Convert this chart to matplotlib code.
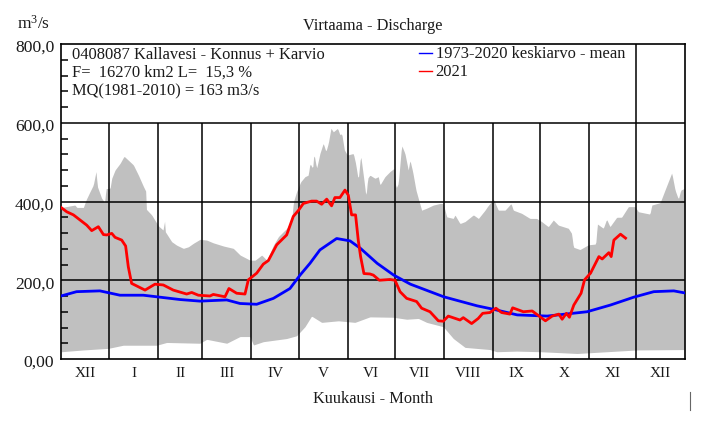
import numpy as np
import matplotlib
matplotlib.use('Agg')
import matplotlib.pyplot as plt
from matplotlib.lines import Line2D
from matplotlib.transforms import ScaledTranslation

plt.rcParams['font.family'] = ['Liberation Serif', 'DejaVu Serif']
plt.rcParams['mathtext.default'] = 'regular'

month_labels = ['XII', 'I', 'II', 'III', 'IV', 'V', 'VI', 'VII', 'VIII', 'IX', 'X', 'XI', 'XII']
month_days = [31, 31, 28, 31, 30, 31, 30, 31, 31, 30, 31, 30, 31]

# paivat laskettu 1.12. alkaen
upper_days = [0.8, 9.2, 10.3, 14.5, 16.2, 18.7, 20.8, 22.5, 23.4, 26.1, 28.2, 28.7, 31.4, 32.5, 34.6, 37.8, 40.3, 43, 46.2, 49.4,
              52.6, 54.2, 54.5, 57.8, 62.1, 65.2, 65.9, 66.5, 70.5, 73.7, 77.9, 81.1, 84.3, 88.5, 92.7, 96.9, 103.3, 109.6, 113.9, 120.2,
              123.4, 127.6, 130.8, 135, 138.2, 143.5, 146.6, 147.7, 149.7, 152.3, 155, 157.1, 158.2, 159.9, 160.7, 162.4, 164.5, 166.6, 168.3, 169.8,
              171.5, 173, 175.7, 177.2, 178.3, 180, 181.9, 185.7, 187.1, 188.8, 190.3, 192.4, 193.7, 194.8, 196.2, 199.4, 201.5, 202.6, 205.7, 208.9,
              211.5, 212.7, 214.2, 216.3, 218.4, 220.5, 221.6, 223.3, 225.4, 227.5, 229, 232.2, 236.4, 240.6, 242.7, 244.9, 249.1, 250.1, 253.3, 256.5,
              261.8, 265, 269.2, 270.7, 274.5, 277.6, 281.9, 285.7, 287.1, 292.4, 297.7, 301.9, 305.1, 309.3, 312.5, 315.7, 322, 324.1, 325.2, 329.4,
              334.7, 339.4, 340.4, 344.2, 346.3, 348.4, 352.7, 355.8, 360.1, 364.3, 366.4, 373.8, 374.9, 380.2, 383.3, 387.6, 389.7, 391.8, 393.3, 396]
upper_vals = [385, 391, 385, 385, 404, 425, 442, 476, 438, 408, 397, 433, 433, 459, 480, 497, 515, 505, 493, 467,
              438, 425, 380, 366, 338, 327, 355, 323, 298, 289, 281, 285, 294, 304, 302, 295, 287, 281, 264, 251,
              251, 264, 251, 289, 311, 332, 353, 399, 425, 450, 463, 467, 497, 484, 522, 484, 522, 548, 527, 548,
              586, 577, 586, 569, 573, 531, 518, 522, 497, 455, 518, 455, 412, 459, 467, 459, 463, 442, 463, 476,
              484, 433, 446, 543, 522, 480, 505, 476, 429, 399, 378, 383, 391, 395, 395, 361, 357, 366, 344, 349,
              366, 357, 378, 387, 406, 378, 378, 395, 378, 370, 357, 357, 349, 336, 353, 340, 332, 319, 284, 278,
              290, 292, 343, 332, 355, 336, 360, 360, 387, 387, 374, 368, 391, 397, 429, 473, 429, 406, 429, 434]

lower_days = [0.7, 14.5, 30.3, 39.8, 61, 67.3, 88.4, 92.7, 105.4, 113.8, 120.2, 122.3, 128.6, 143.4, 149.7, 155, 159.2, 165.6, 176.2, 186.7,
              196.2, 211, 219.5, 226.9, 232.2, 242.7, 249.1, 256.5, 272.3, 276.6, 289.3, 304.4, 327.6, 365.7, 396]
lower_vals = [18.5, 23, 27, 35, 35, 42, 40, 50, 40, 57, 57, 35.5, 44, 52, 59, 82, 109, 93, 97, 93,
              107, 106, 101, 103, 93, 82, 52, 29.5, 24, 18.5, 20, 18.5, 14, 23, 24]

mean_days = [0.3, 10.2, 25, 37.7, 52.5, 63.1, 75.8, 88.4, 105.4, 113.8, 124.4, 135, 145.5, 151.9, 158.2, 164.5, 175.1, 183.6, 190.2, 200.8,
             211.3, 221.9, 243, 264.2, 274.8, 289.6, 308.6, 333.9, 348.7, 363.5, 376.2, 388.9, 395.6]
mean_vals = [160, 171, 173, 162, 162, 157, 151, 147, 150, 141, 139, 154, 179, 213, 243, 277, 306, 300, 281, 243,
             213, 190, 158, 135, 126, 112, 109, 120, 137, 157, 171, 173, 168]

y2021_days = [0.3, 3.9, 8.2, 12.4, 16.6, 19.8, 24, 27.2, 29.3, 32.5, 34.6, 38.8, 41.3, 43, 45.1, 53.6, 59.9, 65.2, 71.5, 80,
              83.2, 87.4, 94.8, 96.9, 104.3, 106.8, 111.7, 117, 119.1, 124.4, 128.6, 131.8, 137.1, 143.4, 147.6, 150.8, 154, 159.2, 162.4, 165.6,
              168.8, 171.9, 174, 177.2, 180.4, 182.5, 184.6, 187.1, 188.8, 190.3, 192.4, 196.2, 198.4, 202.2, 208.9, 212.1, 215.3, 219.5, 225.8, 229,
              234.3, 239.6, 242.7, 245.9, 253.3, 255.4, 260.7, 264.9, 267.7, 272.3, 276.1, 279.7, 285, 286.7, 293.5, 299.1, 307.5, 311.8, 316, 318.1,
              320.8, 322.7, 325.5, 330.1, 332.3, 336.1, 341.4, 343.5, 347.7, 349.2, 350.9, 355.1, 358.3]
y2021_vals = [385, 374, 366, 353, 340, 326, 336, 316, 315, 319, 309, 302, 287, 234, 192, 175, 190, 188, 175, 165,
              169, 162, 160, 164, 158, 179, 167, 165, 201, 218, 241, 250, 290, 315, 362, 377, 395, 401, 401, 393,
              406, 389, 410, 410, 429, 416, 366, 366, 302, 260, 217, 216, 213, 200, 202, 200, 171, 154, 146, 129,
              120, 97, 96, 109, 99, 105, 90, 103, 116, 118, 129, 118, 114, 130, 120, 122, 97, 109, 114, 101,
              116, 106, 137, 167, 201, 218, 260, 254, 270, 260, 302, 317, 307]

info_lines = ['0408087 Kallavesi - Konnus + Karvio', 'F=  16270 km2 L=  15,3 %', 'MQ(1981-2010) = 163 m3/s']

month_edges = np.cumsum(month_days)
month_mid = month_edges - np.array(month_days) / 2
total_days = month_edges[-1]
W, H = 720, 422
TXT = '#1a1a1a'

fig = plt.figure(figsize=(W / 100, H / 100), dpi=100)
ax = fig.add_axes([60.5 / W, 63 / H, 624.5 / W, 315 / H])

# harmaa alue min-max, yhteiset x-pisteet
grid_x = np.arange(0.5, total_days, 0.5)
ax.fill_between(grid_x, np.interp(grid_x, lower_days, lower_vals), np.interp(grid_x, upper_days, upper_vals),
                color='#c0c0c0', lw=0, zorder=1)

ax.hlines([200, 400, 600], 0, total_days, color='black', lw=1.1, zorder=2)
ax.vlines(month_edges[:-2], 0, 600, color='black', lw=1.1, zorder=2)
ax.vlines(month_edges[-2], 0, 800, color='black', lw=1.1, zorder=2)

ax.plot(mean_days, mean_vals, color='#0000ff', lw=2, zorder=3)
ax.plot(y2021_days, y2021_vals, color='#ff0000', lw=2, zorder=4)

ax.set_xlim(0, total_days)
ax.set_ylim(0, 800)
ax.set_xticks(month_mid)
ax.set_xticklabels(month_labels, fontsize=11, color=TXT)
ax.tick_params(axis='x', length=0, pad=6)
ax.set_yticks([0, 200, 400, 600, 800])
ax.set_yticklabels(['0,00', '200,0', '400,0', '600,0', '800,0'], fontsize=12.6, color=TXT)
ax.set_yticks(np.arange(40, 800, 40), minor=True)
ax.tick_params(axis='y', which='major', length=0, pad=4.5)
ax.tick_params(axis='y', which='minor', direction='in', length=5, width=1.1)
shift = ScaledTranslation(0, -2 / 100, fig.dpi_scale_trans)
for lab in ax.get_yticklabels():
    lab.set_transform(lab.get_transform() + shift)
for s in ax.spines.values():
    s.set_linewidth(1.2)

for i, line in enumerate(info_lines):
    fig.text(72 / W, 1 - (59 + i * 18) / H, line, fontsize=11.9, color=TXT, va='baseline')

handles = [Line2D([], [], color='#0000ff', lw=1), Line2D([], [], color='#ff0000', lw=1)]
ax.legend(handles, ['1973-2020 keskiarvo - mean', '2021'], loc='upper left', bbox_to_anchor=(419 / W, 1 - 46.5 / H),
          bbox_transform=fig.transFigure, frameon=False, fontsize=11.9, labelcolor=TXT, borderpad=0, borderaxespad=0,
          handlelength=0.8, handletextpad=0.2, labelspacing=0.12)

fig.text(372.5 / W, 1 - 30 / H, 'Virtaama - Discharge', fontsize=11.8, color=TXT, ha='center', va='baseline')
fig.text(373 / W, 1 - 403 / H, 'Kuukausi - Month', fontsize=11.8, color=TXT, ha='center', va='baseline')
fig.text(17 / W, 1 - 29 / H, 'm$^{3}$/s', fontsize=12.5, color=TXT, va='baseline')
fig.add_artist(Line2D([689.5 / W, 689.5 / W], [1 - 392 / H, 1 - 410 / H], color='#666666', lw=0.8))

fig.savefig('out.png', dpi=100)
